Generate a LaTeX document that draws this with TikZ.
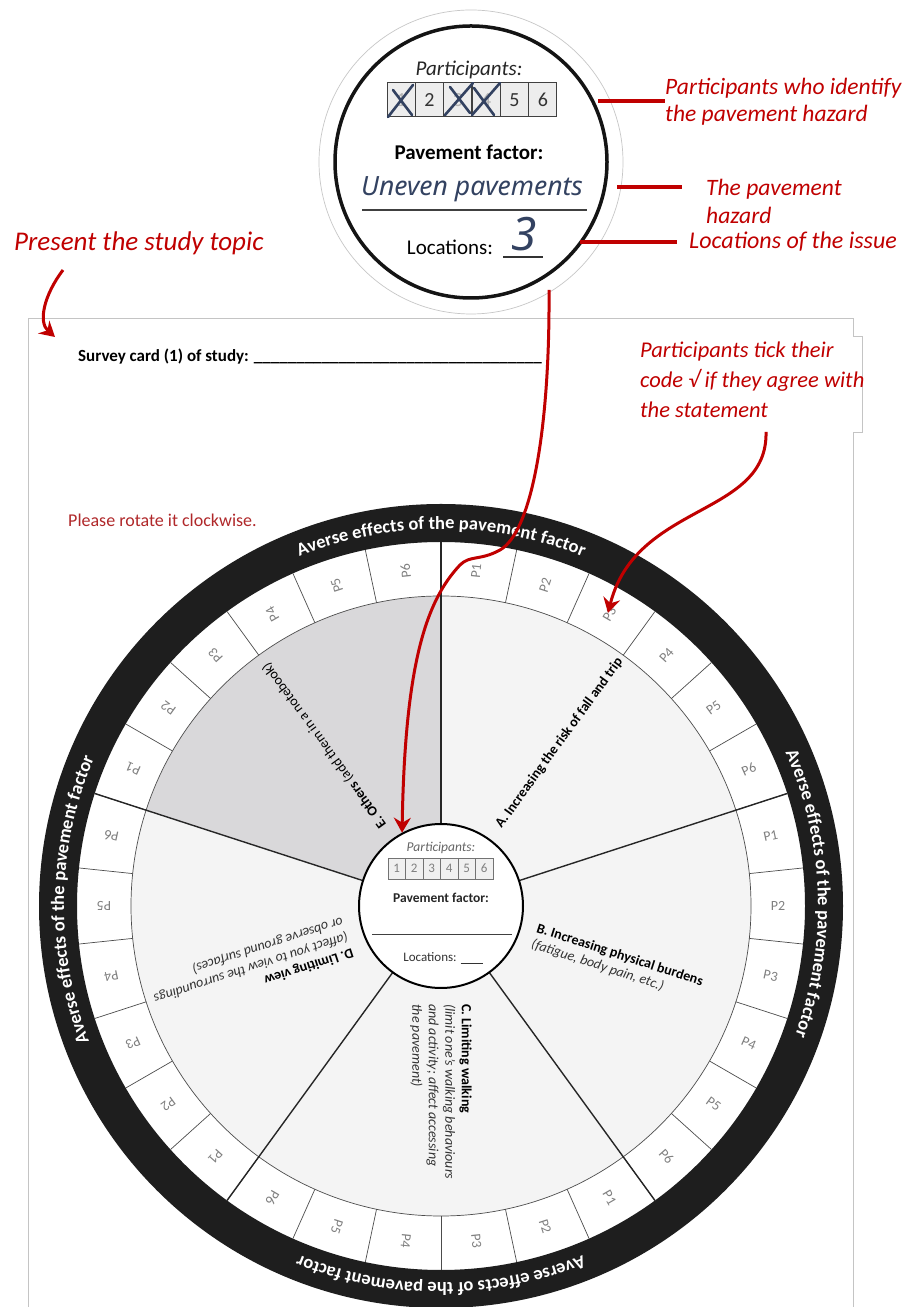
\documentclass[tikz,border=0pt]{standalone}
\usepackage{fontspec}
\setmainfont{Carlito}
\newfontfamily\handfont{Noto Sans}
\usetikzlibrary{arrows.meta,decorations.text}

\definecolor{annot}{HTML}{C00000}
\definecolor{hint}{HTML}{B0282A}
\definecolor{ink}{HTML}{334261}
\definecolor{wheelfill}{HTML}{F4F4F4}
\definecolor{otherfill}{HTML}{D9D8DA}
\definecolor{ringblack}{HTML}{1E1E1E}
\definecolor{cardedge}{HTML}{C4C4C4}
\definecolor{cellgray}{HTML}{808080}

\newcommand{\pxfont}[2]{\fontsize{#1pt}{#2pt}\selectfont}

\tikzset{
  annottext/.style={text=annot, font=\pxfont{23.5}{27}\itshape, align=left, inner sep=0pt},
  annotline/.style={draw=annot, line width=3.2pt},
  annotarrow/.style={draw=annot, line width=3pt, -{Stealth[length=15pt,width=17pt,inset=5pt]}},
  lenscell/.style={draw=black!75, fill=black!7, line width=1pt, minimum width=28.3pt, minimum height=34pt, inner sep=0pt, font=\pxfont{20}{20}, text=black!80},
  centrecell/.style={draw=black!55, fill=black!6, line width=0.8pt, minimum width=17.5pt, minimum height=21pt, inner sep=0pt, font=\pxfont{13}{13}, text=black!50},
  xstroke/.style={draw=ink, line width=2.6pt, line cap=round},
  cellline/.style={draw=black!70, line width=0.7pt},
  divider/.style={draw=black!85, line width=1.4pt},
  plabel/.style={text=cellgray, font=\pxfont{14}{14}, inner sep=0pt},
  segtext/.style={font=\pxfont{14}{16.5}, align=left, inner sep=0pt, anchor=west},
  ringtext/.style={decorate, decoration={text along path, text align=center, text color=white,
      text={|\pxfont{18.5}{18.5}\bfseries|Averse effects of the pavement factor}}},
}

\begin{document}
\begin{tikzpicture}[x=1pt,y=1pt]
\useasboundingbox (0,0) rectangle (913,1307);
\clip (0,0) rectangle (913,1307);
\fill[white] (0,0) rectangle (913,1307);

% ---- survey card sheet ----
\draw[cardedge, line width=0.8pt, fill=white] (28,-10) -- (28,989) -- (853,989) -- (853,-10);
\fill[white] (632,875) rectangle (862,971);
\draw[cardedge, line width=0.8pt] (853,971) -- (862,971) -- (862,875) -- (853,875);

\node[anchor=base west, font=\pxfont{17}{20}\bfseries, inner sep=0pt] (cardtitle) at (78,945)
  {Survey card (1) of study: \_\_\_\_\_\_\_\_\_\_\_\_\_\_\_\_\_\_\_\_\_\_\_\_\_\_\_\_\_\_\_\_\_\_};
\node[anchor=west, text=hint, font=\pxfont{18}{21}, inner sep=0pt] (rotatehint) at (68,787)
  {Please rotate it clockwise.};
\node[annottext, anchor=west, font=\pxfont{22.5}{30}\itshape] (ticknote) at (640,927)
  {Participants tick their\\code √ if they agree with\\the statement};

% ---- magnified centre label ----
\node[circle, draw=black!22, line width=0.7pt, fill=white, minimum size=304pt, inner sep=0pt] (lens) at (471,1145) {};
\node[circle, draw=black!92, line width=3.5pt, minimum size=272pt, inner sep=0pt] (lensrim) at (471,1145) {};
\node[font=\pxfont{21}{21}\itshape, text=black!85] (lenstitle) at (469,1237) {Participants:};
\foreach \i/\tc in {1/black!30,2/black!80,3/black!30,4/black!30,5/black!80,6/black!80}
  \node[lenscell, text=\tc] (lc\i) at ({387+28.33*(\i-0.5)},1207) {\i};
\draw[xstroke] (388,1190) -- (413,1222);
\draw[xstroke] (393,1217) -- (412,1192);
\draw[xstroke] (445,1192) -- (473,1224);
\draw[xstroke] (450,1220) -- (470,1194);
\draw[xstroke] (472,1192) -- (500,1224);
\draw[xstroke] (474,1219) -- (494,1192);
\node[font=\pxfont{21}{21}\bfseries] (lensfactor) at (469,1155) {Pavement factor:};
\node[font=\handfont\itshape\pxfont{26.5}{26.5}, text=ink] (lenshazard) at (472,1118) {Uneven pavements};
\draw[black!75, line width=1.5pt] (362,1097) -- (587,1097);
\node[font=\pxfont{21}{21}] (lensloc) at (450,1060) {Locations:};
\draw[black!80, line width=1.5pt] (503,1050) -- (543,1050);
\node[font=\handfont\itshape\pxfont{46}{46}, text=ink] (lenscount) at (524,1073) {3};

% ---- callouts ----
\node[annottext, anchor=west] (hazardwho) at (665,1205) {Participants who identify\\the pavement hazard};
\node[annottext, anchor=west, font=\pxfont{23.5}{28}\itshape] (hazardname) at (706,1106) {The pavement\\hazard};
\node[annottext, anchor=west, font=\pxfont{24}{27}\itshape] (hazardloc) at (689,1065) {Locations of the issue};
\coordinate (w1) at (598,1206);
\coordinate (w2) at (617,1120);
\coordinate (w2e) at (682,1120);
\coordinate (w3) at (580,1065);
\coordinate (w3e) at (677,1065);
\draw[annotline] (w1) -- (hazardwho.west |- w1);
\draw[annotline] (w2) -- (w2e);
\draw[annotline] (w3) -- (w3e);

\node[annottext, anchor=west, font=\pxfont{27}{27}\itshape] (topicnote) at (14,1064) {Present the study topic};

% ---- rotating wheel ----
\begin{scope}[shift={(441,401)}]
  \foreach \s/\col in {0/wheelfill,1/wheelfill,2/wheelfill,3/wheelfill,4/otherfill}
    \fill[\col] (0,0) -- ({90-72*\s}:310) arc[start angle={90-72*\s}, end angle={18-72*\s}, radius=310] -- cycle;
  \fill[white, even odd rule] (0,0) circle[radius=364] (0,0) circle[radius=310];
  \fill[ringblack, even odd rule] (0,0) circle[radius=402] (0,0) circle[radius=364];
  \foreach \k in {0,...,29}
    \draw[cellline] ({90-12*\k}:310) -- ({90-12*\k}:364);
  \draw[cellline] (0,0) circle[radius=310];
  \foreach \s in {0,...,4}
    \draw[divider] ({90-72*\s}:82) -- ({90-72*\s}:364);
  \foreach \s in {0,...,4}{
    \foreach \j in {1,...,6}{
      \pgfmathsetmacro\ang{90-72*\s-12*\j+6}
      \node[plabel, rotate=\ang] (p\s-\j) at (\ang:337) {P\j};
    }
  }
  \path[ringtext] (130:377) arc[start angle=130, end angle=50, radius=377];
  \path[ringtext] (42:377) arc[start angle=42, end angle=-38, radius=377];
  \path[ringtext] (-50:377) arc[start angle=-50, end angle=-130, radius=377];
  \path[ringtext] (219:377) arc[start angle=219, end angle=139, radius=377];

  \node[segtext, rotate=54] (segA) at (54:98) {\bfseries A. Increasing the risk of fall and trip};
  \node[segtext, rotate=-18] (segB) at (-18:98)
    {{\bfseries B. Increasing physical burdens}\\{\itshape\color{black!80}(fatigue, body pain, etc.)}};
  \node[segtext, rotate=-90] (segC) at (-90:98)
    {{\bfseries C. Limiting walking}\\{\itshape\color{black!80}(limit one’s walking behaviours}\\{\itshape\color{black!80}and activity; affect accessing}\\{\itshape\color{black!80}the pavement)}};
  \node[segtext, rotate=-162] (segD) at (-162:98)
    {{\bfseries D. Limiting view}\\{\itshape\color{black!80}(affect you to view the surroundings}\\{\itshape\color{black!80}or observe ground surfaces)}};
  \node[segtext, rotate=126] (segE) at (126:98) {{\bfseries E. Others} (add them in a notebook)};

  \node[circle, draw=black, line width=2pt, fill=white, minimum size=164pt, inner sep=0pt] (cc) at (0,0) {};
  \node[font=\pxfont{13.5}{13.5}\itshape, text=black!60] (cctitle) at (0,58) {Participants:};
  \foreach \i in {1,...,6}
    \node[centrecell] (cc\i) at ({-53+17.5*(\i-0.5)},37.5) {\i};
  \node[font=\pxfont{13.5}{13.5}\bfseries, text=black!85] (ccfactor) at (0,8) {Pavement factor:};
  \draw[black!75, line width=1pt] (-69,-29) -- (71,-29);
  \node[font=\pxfont{13}{13}, text=black!80] (ccloc) at (2,-52) {Locations: \underline{\hspace{22pt}}};
\end{scope}

% ---- red arrows ----
\coordinate (topicstart) at (63,1037);
\coordinate (topicend) at (55,970);
\draw[annotarrow] (topicstart) .. controls (44,1012) and (38,985) .. (topicend);

\coordinate (lensdrop) at (549,1017);
\draw[annotarrow] (lensdrop) .. controls (550,880) and (532,775) .. (500,757)
  .. controls (480,746) and (470,752) .. (460,742)
  .. controls (425,705) and (405,640) .. (cc.118);

\coordinate (tickstart) at (766,875);
\coordinate (tickend) at (608,694);
\draw[annotarrow] (tickstart) .. controls (768,790) and (636,805) .. (tickend);
\end{tikzpicture}
\end{document}
